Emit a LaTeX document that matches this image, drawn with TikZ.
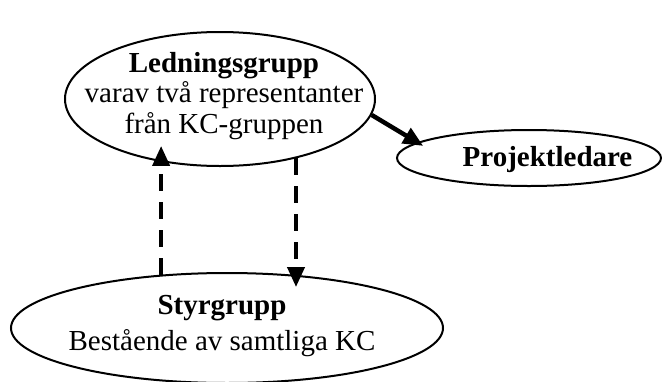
\documentclass[tikz,border=0pt]{standalone}
\usepackage{fontspec}
\setmainfont{Liberation Serif}
\usetikzlibrary{shapes.geometric,arrows.meta}
\begin{document}
\begin{tikzpicture}[x=1pt,y=-1pt,
  oval/.style={ellipse, draw, line width=2pt, inner sep=0pt},
  ovaltext/.style={font=\fontsize{29}{30.5}\selectfont, align=center, inner sep=0pt},
  dashlink/.style={line width=4pt, dash pattern=on 17pt off 11pt,
    -{Triangle[length=20pt,width=17pt]}},
  solidlink/.style={line width=4.5pt, -{Triangle[length=20pt,width=17pt]}}]

  % canvas
  \path[use as bounding box, fill=white] (0,0) rectangle (662,381);

  % the three groups
  \node[oval, minimum width=310pt, minimum height=134pt] (led) at (220,99) {};
  \node[oval, minimum width=264pt, minimum height=56pt]  (pl)  at (529,158) {};
  \node[oval, minimum width=432pt, minimum height=110pt] (sty) at (227,328) {};

  \node[ovaltext] (ledtext) at (224,96)
    {\textbf{Ledningsgrupp}\\varav två representanter\\från KC-gruppen};
  \node[ovaltext, anchor=base] (pltext) at (547.5,166.7) {\textbf{Projektledare}};
  \node[ovaltext] (stytext) at (222,326)
    {\textbf{Styrgrupp}\\[6pt]Bestående av samtliga KC};

  % reporting lines
  \draw[solidlink, shorten >=-7pt] (led.-6) -- (pl.172);
  \draw[dashlink, shorten >=-16pt] (sty.141) -- (sty.141 |- led.-133);
  \draw[dashlink, shorten >=-12pt] (led.-38) -- (led.-38 |- sty.37.5);
\end{tikzpicture}
\end{document}
